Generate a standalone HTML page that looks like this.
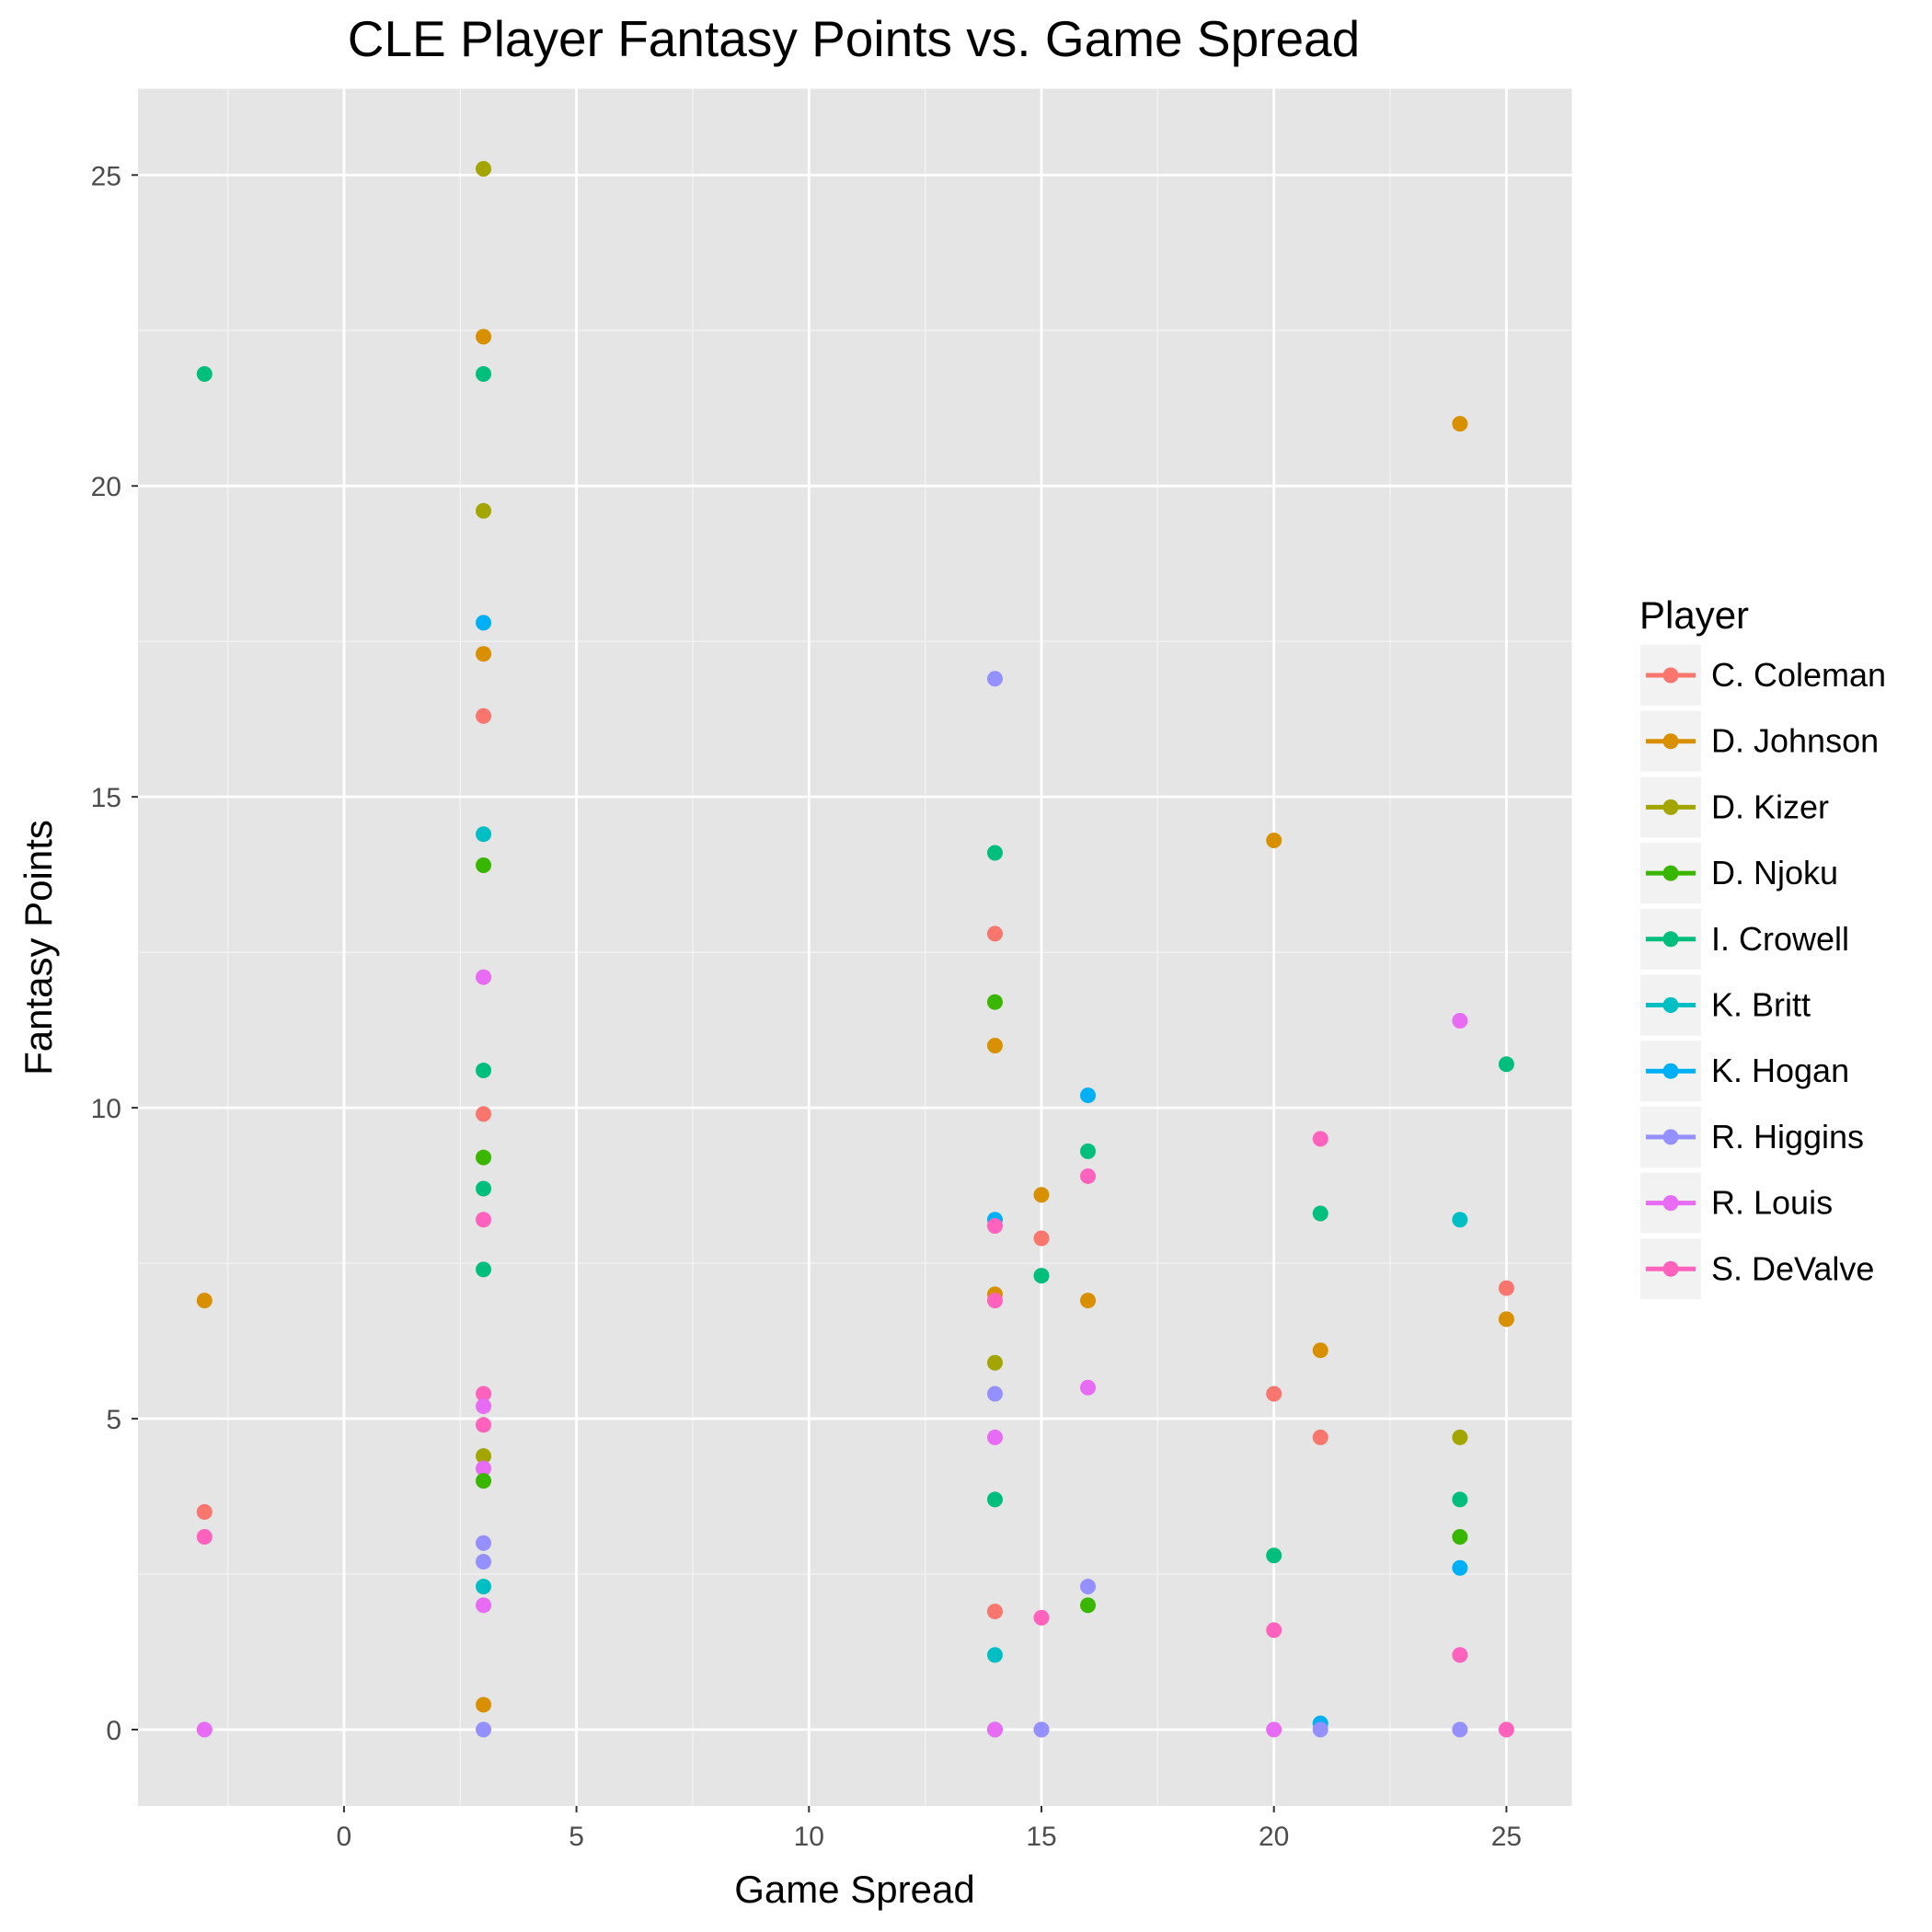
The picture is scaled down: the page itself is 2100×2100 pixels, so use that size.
<!DOCTYPE html>
<html><head><meta charset="utf-8"><style>
html,body{margin:0;padding:0;background:#fff;}
svg{display:block;font-family:"Liberation Sans",Arial,sans-serif;}
</style></head><body>
<svg id="chart" width="2100" height="2100" viewBox="0 0 2100 2100" xmlns="http://www.w3.org/2000/svg">
<rect width="2100" height="2100" fill="#fff"/>
<text x="928" y="61" font-size="55" text-anchor="middle" fill="#000">CLE Player Fantasy Points vs. Game Spread</text>
<rect x="150" y="96.5" width="1558.5" height="1866.5" fill="#e5e5e5"/>
<g id="grid"></g>
<g id="points"></g>
<g id="axes"></g>
<text x="929" y="2068" font-size="42" text-anchor="middle">Game Spread</text>
<text transform="translate(56,1030) rotate(-90)" font-size="42" text-anchor="middle">Fantasy Points</text>
<g id="legend"></g>
</svg>
<script>
const players=["C. Coleman","D. Johnson","D. Kizer","D. Njoku","I. Crowell","K. Britt","K. Hogan","R. Higgins","R. Louis","S. DeValve"];
const colors=["#F8766D","#D89000","#A3A500","#39B600","#00BF7D","#00BFC4","#00B0F6","#9590FF","#E76BF3","#FF62BC"];
const xTicks=[0,5,10,15,20,25];
const yTicks=[0,5,10,15,20,25];
// point data: spread, points, player index
const spreads=[-3,-3,-3,-3,-3,
3,3,3,3,3,3,3,3,3,3,3,3,3,3,3,3,3,3,3,3,3,3,3,3,3,3,3,3,
14,14,14,14,14,14,14,14,14,14,14,14,14,14,14,14,14,
15,15,15,15,15,15,
16,16,16,16,16,16,16,
20,20,20,20,20,
21,21,21,21,21,21,
24,24,24,24,24,24,24,24,24,
25,25,25,25];
const fpts=[21.8,6.9,3.5,3.1,0,
25.1,22.4,21.8,19.6,17.8,17.3,16.3,14.4,13.9,12.1,10.6,9.9,9.2,8.7,8.2,7.4,5.4,5.2,4.9,4.4,4.2,4.0,3.0,2.7,2.3,2.0,0.4,0,
16.9,14.1,12.8,11.7,11.0,8.2,8.1,7.0,6.9,5.9,5.4,4.7,3.7,1.9,1.2,0,0,
8.6,7.9,7.3,1.8,0,0,
10.2,9.3,8.9,6.9,5.5,2.3,2.0,
14.3,5.4,2.8,1.6,0,
9.5,8.3,6.1,4.7,0.1,0,
21.0,11.4,8.2,4.7,3.7,3.1,2.6,1.2,0,
10.7,7.1,6.6,0];
const who=[4,1,0,9,8,
2,1,4,2,6,1,0,5,3,8,4,0,3,4,9,4,9,8,9,2,8,3,7,7,5,8,1,7,
7,4,0,3,1,6,9,1,9,2,7,8,4,0,5,7,8,
1,0,4,9,8,7,
6,4,9,1,8,7,3,
1,0,4,9,8,
9,4,1,0,6,7,
1,8,5,2,4,3,6,9,7,
4,0,1,9];
const NS="http://www.w3.org/2000/svg";
const X0=150,X1=1708.5,Y0=96.5,Y1=1963;
const xs=v=>373.9+(v)*50.54;
const ys=v=>1880-(v)*67.59;
function mk(tag,attrs,parent){const e=document.createElementNS(NS,tag);for(const k in attrs)e.setAttribute(k,attrs[k]);parent.appendChild(e);return e;}
const grid=document.getElementById('grid');
for(let v=-2.5;v<=26;v+=5){const l=mk('line',{x1:xs(v),x2:xs(v),y1:Y0,y2:Y1,stroke:'#f2f2f2','stroke-width':1.4},grid);

}
for(let v=2.5;v<=26;v+=5){const l=mk('line',{x1:X0,x2:X1,y1:ys(v),y2:ys(v),stroke:'#f2f2f2','stroke-width':1.4},grid);

}
const axes=document.getElementById('axes');
xTicks.forEach(v=>{const l=mk('line',{x1:xs(v),x2:xs(v),y1:Y0,y2:Y1,stroke:'#fff','stroke-width':2.8},grid);


const t=mk('line',{x1:xs(v),x2:xs(v),y1:Y1,y2:Y1+7,stroke:'#333','stroke-width':2},axes);


const tx=mk('text',{x:xs(v),y:Y1+43,'font-size':30,'text-anchor':'middle',fill:'#4d4d4d'},axes);tx.textContent=v;

});
yTicks.forEach(v=>{const l=mk('line',{x1:X0,x2:X1,y1:ys(v),y2:ys(v),stroke:'#fff','stroke-width':2.8},grid);


const t=mk('line',{x1:X0-7,x2:X0,y1:ys(v),y2:ys(v),stroke:'#333','stroke-width':2},axes);


const tx=mk('text',{x:X0-18,y:ys(v)+11,'font-size':30,'text-anchor':'end',fill:'#4d4d4d'},axes);tx.textContent=v;

});
const pts=document.getElementById('points');
spreads.forEach((s,i)=>{const c=mk('circle',{cx:xs(s),cy:ys(fpts[i]),r:8.5,fill:colors[who[i]]},pts);

});
const lg=document.getElementById('legend');
const tt=mk('text',{x:1782,y:683,'font-size':42},lg);tt.textContent='Player';


players.forEach((p,i)=>{const y=734+i*71.7;
const g=mk('g',{},lg);


mk('rect',{x:1783,y:y-33,width:66,height:66,fill:'#f2f2f2'},g);
mk('line',{x1:1789,x2:1843,y1:y,y2:y,stroke:colors[i],'stroke-width':5},g);
mk('circle',{cx:1816,cy:y,r:8.5,fill:colors[i]},g);
const t=mk('text',{x:1860,y:y+12,'font-size':36},g);t.textContent=p;});
</script>
</body></html>
